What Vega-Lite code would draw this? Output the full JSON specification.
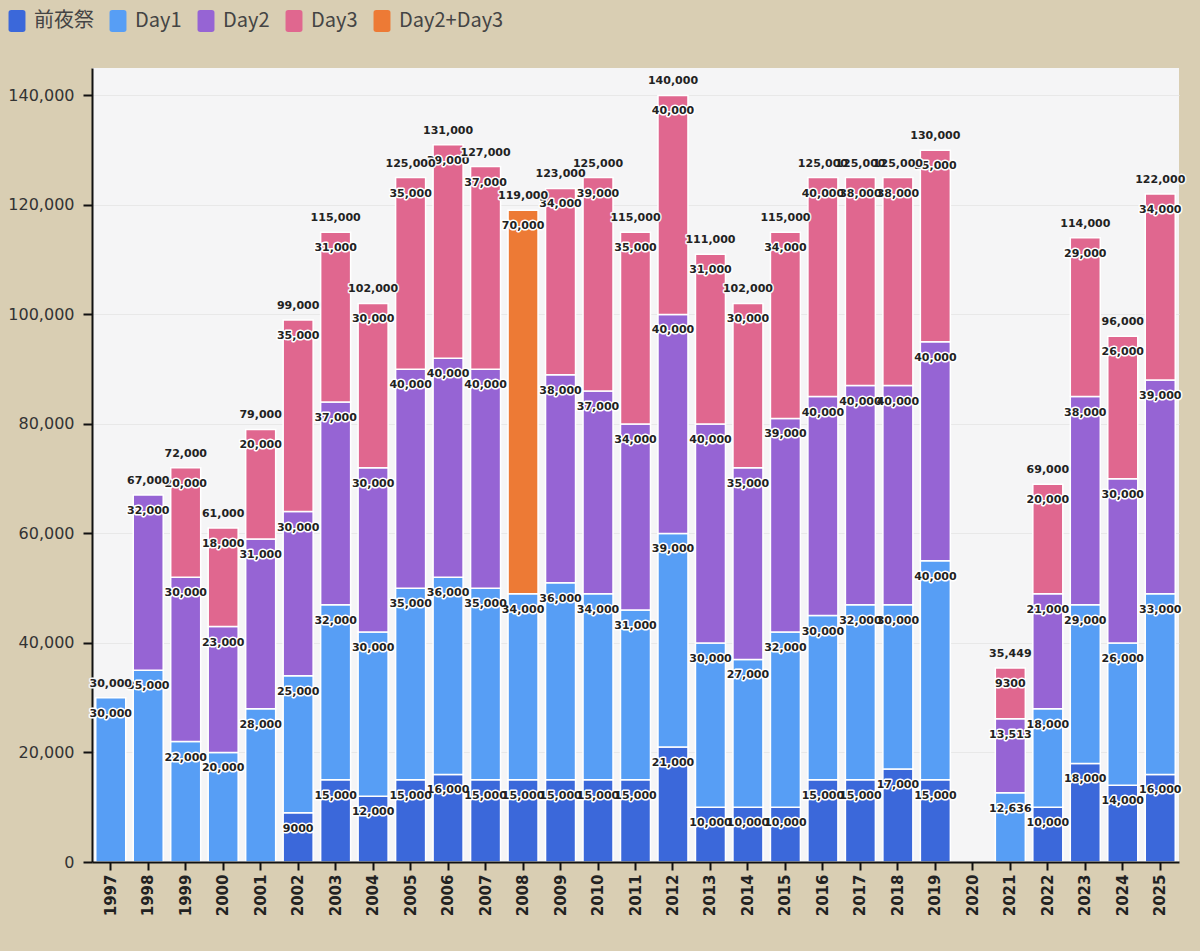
{
  "$schema": "https://vega.github.io/schema/vega-lite/v6.json",
  "width": 1087,
  "height": 794,
  "autosize": {"type": "none"},
  "padding": {"left": 92, "top": 68, "right": 21, "bottom": 89},
  "background": "#d9ceb3",
  "config": {"view": {"fill": "#f5f5f6", "stroke": null}, "font": "DejaVu Sans"},
  "data": {"values": [
    {"year": "1997", "cat": "Day1", "value": 30000},
    {"year": "1998", "cat": "Day1", "value": 35000},
    {"year": "1998", "cat": "Day2", "value": 32000},
    {"year": "1999", "cat": "Day1", "value": 22000},
    {"year": "1999", "cat": "Day2", "value": 30000},
    {"year": "1999", "cat": "Day3", "value": 20000},
    {"year": "2000", "cat": "Day1", "value": 20000},
    {"year": "2000", "cat": "Day2", "value": 23000},
    {"year": "2000", "cat": "Day3", "value": 18000},
    {"year": "2001", "cat": "Day1", "value": 28000},
    {"year": "2001", "cat": "Day2", "value": 31000},
    {"year": "2001", "cat": "Day3", "value": 20000},
    {"year": "2002", "cat": "前夜祭", "value": 9000},
    {"year": "2002", "cat": "Day1", "value": 25000},
    {"year": "2002", "cat": "Day2", "value": 30000},
    {"year": "2002", "cat": "Day3", "value": 35000},
    {"year": "2003", "cat": "前夜祭", "value": 15000},
    {"year": "2003", "cat": "Day1", "value": 32000},
    {"year": "2003", "cat": "Day2", "value": 37000},
    {"year": "2003", "cat": "Day3", "value": 31000},
    {"year": "2004", "cat": "前夜祭", "value": 12000},
    {"year": "2004", "cat": "Day1", "value": 30000},
    {"year": "2004", "cat": "Day2", "value": 30000},
    {"year": "2004", "cat": "Day3", "value": 30000},
    {"year": "2005", "cat": "前夜祭", "value": 15000},
    {"year": "2005", "cat": "Day1", "value": 35000},
    {"year": "2005", "cat": "Day2", "value": 40000},
    {"year": "2005", "cat": "Day3", "value": 35000},
    {"year": "2006", "cat": "前夜祭", "value": 16000},
    {"year": "2006", "cat": "Day1", "value": 36000},
    {"year": "2006", "cat": "Day2", "value": 40000},
    {"year": "2006", "cat": "Day3", "value": 39000},
    {"year": "2007", "cat": "前夜祭", "value": 15000},
    {"year": "2007", "cat": "Day1", "value": 35000},
    {"year": "2007", "cat": "Day2", "value": 40000},
    {"year": "2007", "cat": "Day3", "value": 37000},
    {"year": "2008", "cat": "前夜祭", "value": 15000},
    {"year": "2008", "cat": "Day1", "value": 34000},
    {"year": "2008", "cat": "Day2+Day3", "value": 70000},
    {"year": "2009", "cat": "前夜祭", "value": 15000},
    {"year": "2009", "cat": "Day1", "value": 36000},
    {"year": "2009", "cat": "Day2", "value": 38000},
    {"year": "2009", "cat": "Day3", "value": 34000},
    {"year": "2010", "cat": "前夜祭", "value": 15000},
    {"year": "2010", "cat": "Day1", "value": 34000},
    {"year": "2010", "cat": "Day2", "value": 37000},
    {"year": "2010", "cat": "Day3", "value": 39000},
    {"year": "2011", "cat": "前夜祭", "value": 15000},
    {"year": "2011", "cat": "Day1", "value": 31000},
    {"year": "2011", "cat": "Day2", "value": 34000},
    {"year": "2011", "cat": "Day3", "value": 35000},
    {"year": "2012", "cat": "前夜祭", "value": 21000},
    {"year": "2012", "cat": "Day1", "value": 39000},
    {"year": "2012", "cat": "Day2", "value": 40000},
    {"year": "2012", "cat": "Day3", "value": 40000},
    {"year": "2013", "cat": "前夜祭", "value": 10000},
    {"year": "2013", "cat": "Day1", "value": 30000},
    {"year": "2013", "cat": "Day2", "value": 40000},
    {"year": "2013", "cat": "Day3", "value": 31000},
    {"year": "2014", "cat": "前夜祭", "value": 10000},
    {"year": "2014", "cat": "Day1", "value": 27000},
    {"year": "2014", "cat": "Day2", "value": 35000},
    {"year": "2014", "cat": "Day3", "value": 30000},
    {"year": "2015", "cat": "前夜祭", "value": 10000},
    {"year": "2015", "cat": "Day1", "value": 32000},
    {"year": "2015", "cat": "Day2", "value": 39000},
    {"year": "2015", "cat": "Day3", "value": 34000},
    {"year": "2016", "cat": "前夜祭", "value": 15000},
    {"year": "2016", "cat": "Day1", "value": 30000},
    {"year": "2016", "cat": "Day2", "value": 40000},
    {"year": "2016", "cat": "Day3", "value": 40000},
    {"year": "2017", "cat": "前夜祭", "value": 15000},
    {"year": "2017", "cat": "Day1", "value": 32000},
    {"year": "2017", "cat": "Day2", "value": 40000},
    {"year": "2017", "cat": "Day3", "value": 38000},
    {"year": "2018", "cat": "前夜祭", "value": 17000},
    {"year": "2018", "cat": "Day1", "value": 30000},
    {"year": "2018", "cat": "Day2", "value": 40000},
    {"year": "2018", "cat": "Day3", "value": 38000},
    {"year": "2019", "cat": "前夜祭", "value": 15000},
    {"year": "2019", "cat": "Day1", "value": 40000},
    {"year": "2019", "cat": "Day2", "value": 40000},
    {"year": "2019", "cat": "Day3", "value": 35000},
    {"year": "2021", "cat": "Day1", "value": 12636},
    {"year": "2021", "cat": "Day2", "value": 13513},
    {"year": "2021", "cat": "Day3", "value": 9300},
    {"year": "2022", "cat": "前夜祭", "value": 10000},
    {"year": "2022", "cat": "Day1", "value": 18000},
    {"year": "2022", "cat": "Day2", "value": 21000},
    {"year": "2022", "cat": "Day3", "value": 20000},
    {"year": "2023", "cat": "前夜祭", "value": 18000},
    {"year": "2023", "cat": "Day1", "value": 29000},
    {"year": "2023", "cat": "Day2", "value": 38000},
    {"year": "2023", "cat": "Day3", "value": 29000},
    {"year": "2024", "cat": "前夜祭", "value": 14000},
    {"year": "2024", "cat": "Day1", "value": 26000},
    {"year": "2024", "cat": "Day2", "value": 30000},
    {"year": "2024", "cat": "Day3", "value": 26000},
    {"year": "2025", "cat": "前夜祭", "value": 16000},
    {"year": "2025", "cat": "Day1", "value": 33000},
    {"year": "2025", "cat": "Day2", "value": 39000},
    {"year": "2025", "cat": "Day3", "value": 34000}
  ]},
  "transform": [
    {"calculate": "indexof(['前夜祭','Day1','Day2','Day2+Day3','Day3'], datum.cat)", "as": "k"},
    {"stack": "value", "groupby": ["year"], "sort": [{"field": "k", "order": "ascending"}], "as": ["v0", "v1"]},
    {"calculate": "datum.value < 10000 ? format(datum.value, 'd') : format(datum.value, ',')", "as": "lab"}
  ],
  "encoding": {
    "x": {
      "field": "year", "type": "ordinal",
      "scale": {"domain": ["1997","1998","1999","2000","2001","2002","2003","2004","2005","2006","2007","2008","2009","2010","2011","2012","2013","2014","2015","2016","2017","2018","2019","2020","2021","2022","2023","2024","2025"], "paddingInner": 0.2, "paddingOuter": 0.1},
      "axis": {"title": null, "labelAngle": -90, "labelFontSize": 15, "labelFontWeight": "bold", "labelColor": "#222", "labelFont": "DejaVu Sans", "domainColor": "#111", "domainWidth": 2, "tickColor": "#111", "tickWidth": 2, "tickSize": 8, "labelPadding": 4, "grid": false, "zindex": 1}
    }
  },
  "layer": [
    {
      "mark": {"type": "bar", "stroke": "white", "strokeWidth": 1.5},
      "encoding": {
        "y": {"field": "v1", "type": "quantitative", "scale": {"domain": [0, 145000], "nice": false},
          "axis": {"title": null, "values": [0,20000,40000,60000,80000,100000,120000,140000], "labelExpr": "format(datum.value, ',')", "labelFontSize": 16, "labelColor": "#333", "labelFont": "DejaVu Sans", "domainColor": "#111", "domainWidth": 2, "tickColor": "#111", "tickWidth": 2, "tickSize": 9, "labelPadding": 9, "grid": true, "gridColor": "#e8e8e8", "zindex": 0}},
        "y2": {"field": "v0"},
        "color": {"field": "cat", "type": "nominal",
          "scale": {"domain": ["前夜祭","Day1","Day2","Day3","Day2+Day3"], "range": ["#3b68da","#579ef5","#9664d4","#e0678f","#ed7a35"]},
          "legend": {"title": null, "orient": "none", "legendX": -86, "legendY": -58, "direction": "horizontal",
            "symbolType": "M-0.52,-1H0.52Q0.77,-1 0.77,-0.75V0.75Q0.77,1 0.52,1H-0.52Q-0.77,1 -0.77,0.75V-0.75Q-0.77,-1 -0.52,-1Z",
            "symbolSize": 484, "symbolStrokeWidth": 0, "symbolOpacity": 1, "labelFontSize": 20, "labelFont": "Noto Sans CJK JP", "labelColor": "#444", "columnPadding": 13, "labelOffset": 6}}
      }
    },
    {
      "mark": {"type": "text", "dy": 16, "fontSize": 11, "fontWeight": "bold", "font": "DejaVu Sans", "stroke": "white", "strokeWidth": 3, "strokeJoin": "round", "fill": "white"},
      "encoding": {"y": {"field": "v1", "type": "quantitative"}, "text": {"field": "lab"}}
    },
    {
      "mark": {"type": "text", "dy": 16, "fontSize": 11, "fontWeight": "bold", "font": "DejaVu Sans", "fill": "#222"},
      "encoding": {"y": {"field": "v1", "type": "quantitative"}, "text": {"field": "lab"}}
    },
    {
      "transform": [{"aggregate": [{"op": "sum", "field": "value", "as": "total"}], "groupby": ["year"]}, {"calculate": "format(datum.total, ',')", "as": "tl"}],
      "mark": {"type": "text", "dy": -14, "fontSize": 11, "fontWeight": "bold", "font": "DejaVu Sans", "stroke": "#f5f5f6", "strokeWidth": 3, "strokeJoin": "round", "fill": "#f5f5f6"},
      "encoding": {"y": {"field": "total", "type": "quantitative"}, "text": {"field": "tl"}}
    },
    {
      "transform": [{"aggregate": [{"op": "sum", "field": "value", "as": "total"}], "groupby": ["year"]}, {"calculate": "format(datum.total, ',')", "as": "tl"}],
      "mark": {"type": "text", "dy": -14, "fontSize": 11, "fontWeight": "bold", "font": "DejaVu Sans", "fill": "#222"},
      "encoding": {"y": {"field": "total", "type": "quantitative"}, "text": {"field": "tl"}}
    }
  ]
}
